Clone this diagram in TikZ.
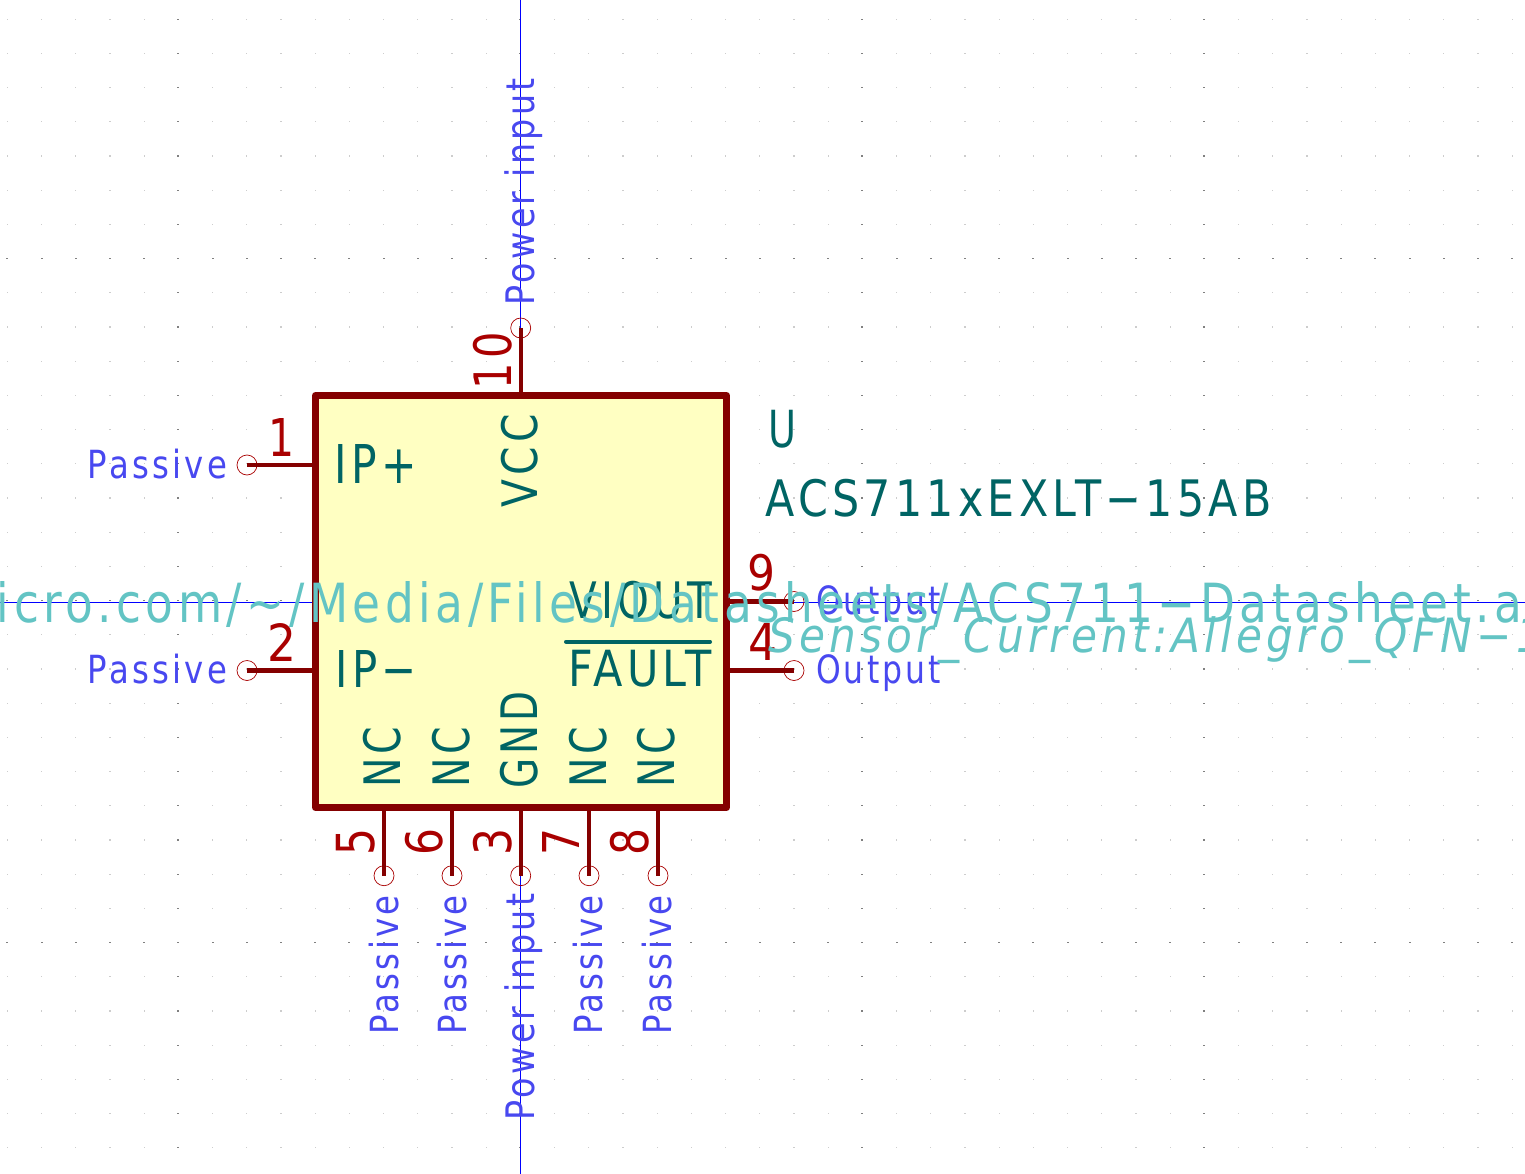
\documentclass[tikz,border=0pt]{standalone}
\usepackage{fontspec}
\usepackage{graphicx}
\setmainfont[LetterSpace=10]{DejaVu Sans}
\definecolor{bodyline}{HTML}{840000}
\definecolor{bodyfill}{HTML}{FFFFC2}
\definecolor{pinnum}{HTML}{A90000}
\definecolor{pinname}{HTML}{006464}
\definecolor{pintype}{HTML}{4848F0}
\definecolor{field}{HTML}{63C4C4}
\definecolor{axis}{HTML}{0000FF}
\definecolor{gridminor}{HTML}{CDCDCD}
\definecolor{gridmajor}{HTML}{808080}
\newcommand{\fitbox}[3]{\resizebox*{#1pt}{#2pt}{#3}}
\tikzset{
  lbl/.style={inner sep=0pt,outer sep=0pt,anchor=center},
  numlbl/.style={lbl,text=pinnum},
  namelbl/.style={lbl,text=pinname},
  typelbl/.style={lbl,text=pintype},
  fieldlbl/.style={lbl,text=field},
  pinline/.style={draw=bodyline,line width=4.3pt},
  pinend/.style={circle,draw=pinnum,line width=0.7pt,minimum size=20pt,inner sep=0pt},
  axisline/.style={draw=axis,line width=1pt}
}
\begin{document}
\begin{tikzpicture}[x=1pt,y=-1pt]
\useasboundingbox (0,0) rectangle (1525,1174);
\fill[white] (0,0) rectangle (1525,1174);
% grid
\foreach \i in {0,...,44}{\foreach \j in {0,...,33}{
  \pgfmathsetmacro{\gx}{7.4+34.2*\i}
  \pgfmathsetmacro{\gy}{19.2+34.2*\j}
  \pgfmathtruncatemacro{\mj}{(mod(\i-5,10)==0)||(mod(\j-7,10)==0)?1:0}
  \ifnum\mj=1
    \fill[gridmajor] (\gx-1,\gy-0.6) rectangle ++(2,1.2);
  \else
    \fill[gridminor] (\gx-0.6,\gy-0.6) rectangle ++(1.2,1.2);
  \fi
}}
% axes
\coordinate (axT) at (520.5,0);
\coordinate (axB) at (520.5,1174);
\coordinate (axL) at (0,602.5);
\coordinate (axR) at (1525,602.5);
\draw[axisline] (axT) -- (axB);
\draw[axisline] (axL) -- (axR);
% pin ends
\node[pinend] (p1) at (247,465) {};
\node[pinend] (p2) at (247,670.5) {};
\node[pinend] (p9) at (794,601.5) {};
\node[pinend] (p4) at (794,670.5) {};
\node[pinend] (p10) at (520.7,328) {};
\node[pinend] (p5) at (384,875.7) {};
\node[pinend] (p6) at (452,875.7) {};
\node[pinend] (p3) at (520.7,875.7) {};
\node[pinend] (p7) at (589,875.7) {};
\node[pinend] (p8) at (658,875.7) {};
% body
\node[draw=bodyline,fill=bodyfill,line width=7pt,line join=round,minimum width=411pt,minimum height=412pt,inner sep=0pt,outer sep=0pt] (body) at (521,601.5) {};
% pins
\draw[pinline] (p1.center) -- (body.west |- p1);
\draw[pinline] (p2.center) -- (body.west |- p2);
\draw[pinline] (p9.center) -- (body.east |- p9);
\draw[pinline] (p4.center) -- (body.east |- p4);
\draw[pinline] (p10.center) -- (body.north -| p10);
\draw[pinline] (p5.center) -- (body.south -| p5);
\draw[pinline] (p6.center) -- (body.south -| p6);
\draw[pinline] (p3.center) -- (body.south -| p3);
\draw[pinline] (p7.center) -- (body.south -| p7);
\draw[pinline] (p8.center) -- (body.south -| p8);
% pin numbers
\node[numlbl] (n1) at (281,437) {\fitbox{26}{38}{1}};
\node[numlbl] (n2) at (282,642) {\fitbox{29}{38}{2}};
\node[numlbl] (n9) at (761,573) {\fitbox{28}{37}{9}};
\node[numlbl] (n4) at (763,642) {\fitbox{29}{37}{4}};
\node[numlbl,rotate=90] (n10) at (492.5,361) {\fitbox{57}{39}{10}};
\node[numlbl,rotate=90] (n5) at (355.5,841.5) {\fitbox{27}{39}{5}};
\node[numlbl,rotate=90] (n6) at (424,841.5) {\fitbox{27}{38}{6}};
\node[numlbl,rotate=90] (n3) at (492.5,841.5) {\fitbox{27}{39}{3}};
\node[numlbl,rotate=90] (n7) at (560.5,841.5) {\fitbox{27}{37}{7}};
\node[numlbl,rotate=90] (n8) at (629.5,841.5) {\fitbox{27}{39}{8}};
% pin names
\node[namelbl] (ipp) at (376,463.5) {\fitbox{82}{39}{IP+}};
\node[namelbl] (ipm) at (376.5,669) {\fitbox{81}{37}{IP−}};
\node[namelbl] (viout) at (641,600.5) {\fitbox{142}{38}{VIOUT}};
\node[namelbl] (fault) at (640,669) {\fitbox{143}{37}{FAULT}};
\coordinate (ovL) at (566,641.7);
\coordinate (ovR) at (710,641.7);
\draw[draw=pinname,line width=4pt,line cap=round] (ovL) -- (ovR);
\node[namelbl,rotate=90] (vcc) at (519.5,461) {\fitbox{93}{37}{VCC}};
\node[namelbl,rotate=90] (gnd) at (519,740) {\fitbox{97}{38}{GND}};
\node[namelbl,rotate=90] (nc5) at (382,757) {\fitbox{61}{38}{NC}};
\node[namelbl,rotate=90] (nc6) at (451,757) {\fitbox{61}{38}{NC}};
\node[namelbl,rotate=90] (nc7) at (588,757) {\fitbox{61}{38}{NC}};
\node[namelbl,rotate=90] (nc8) at (656.5,757) {\fitbox{61}{38}{NC}};
% pin types
\node[typelbl] (t1) at (157.5,464) {\fitbox{139}{30}{Passive}};
\node[typelbl] (t2) at (157.5,669.5) {\fitbox{139}{30}{Passive}};
\node[typelbl] (t9) at (878.5,604.5) {\fitbox{125}{37}{Output}};
\node[typelbl] (t4) at (878.5,673.5) {\fitbox{125}{37}{Output}};
\node[typelbl,rotate=90] (t10) at (524,192) {\fitbox{227}{38}{Power input}};
\node[typelbl,rotate=90] (t3) at (524,1007) {\fitbox{227}{38}{Power input}};
\node[typelbl,rotate=90] (t5) at (384,965) {\fitbox{139}{30}{Passive}};
\node[typelbl,rotate=90] (t6) at (452,965) {\fitbox{139}{30}{Passive}};
\node[typelbl,rotate=90] (t7) at (588,965) {\fitbox{139}{30}{Passive}};
\node[typelbl,rotate=90] (t8) at (657,965) {\fitbox{139}{30}{Passive}};
% fields
\node[namelbl] (ref) at (782,429) {\fitbox{28}{38}{U}};
\node[namelbl] (val) at (1018.5,498) {\fitbox{506}{38}{ACS711xEXLT−15AB}};
\node[fieldlbl,anchor=west] (url) at (-3,604) {\fitbox{1553}{46}{icro.com/\~{}/Media/Files/Datasheets/ACS711−Datasheet.as}};
\node[fieldlbl,anchor=west] (fp) at (768,640) {\fitbox{775}{47}{\itshape Sensor\_Current:Allegro\_QFN−1}};
\end{tikzpicture}
\end{document}
